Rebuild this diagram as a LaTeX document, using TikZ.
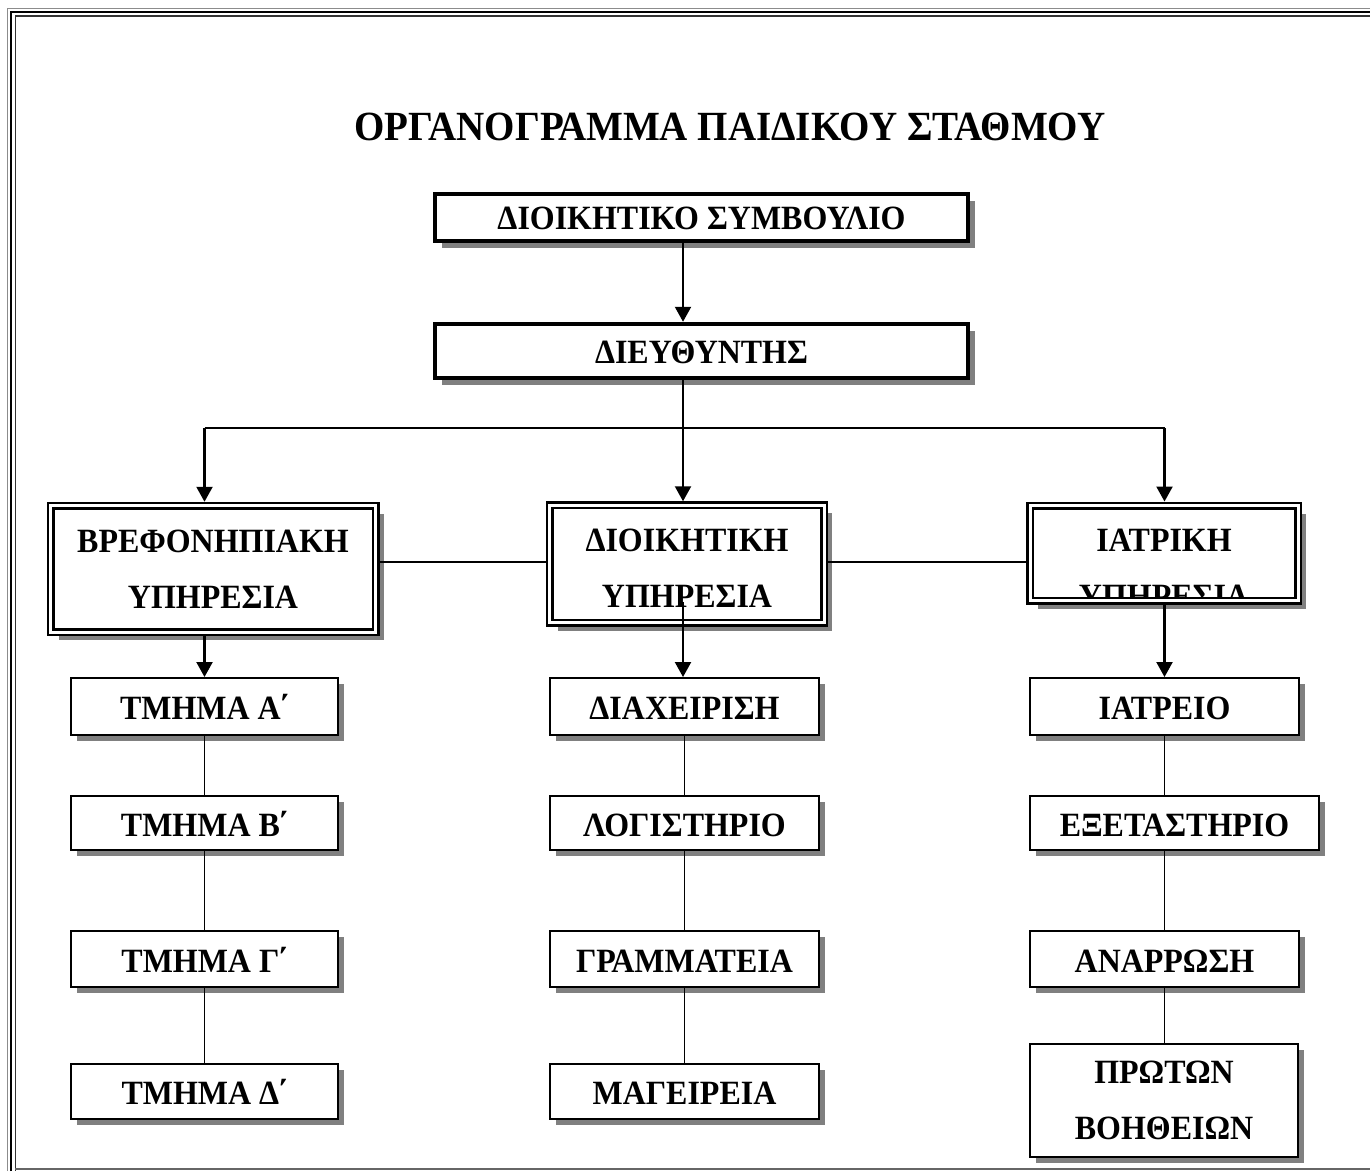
\documentclass[tikz,border=0pt]{standalone}
\usepackage{fontspec}
\setmainfont{Liberation Serif}
\newfontfamily\boxfont[FakeStretch=0.94]{Liberation Serif}
\usetikzlibrary{arrows.meta,shadows}
\definecolor{shadowgray}{gray}{0.5}
% tonos set close after a capital letter
\newcommand{\tightonos}{\kern-2.5pt ΄}
\begin{document}
\begin{tikzpicture}[x=1pt,y=-1pt,
  lbl/.style={font=\boxfont\fontsize{34}{56}\selectfont\bfseries, align=center, text=black},
  ttlstyle/.style={font=\boxfont\fontsize{41.5}{46}\selectfont\bfseries, inner sep=0pt},
  smallbox/.style={lbl, draw, line width=2pt, fill=white, inner sep=0pt, outer sep=1pt,
    drop shadow={shadow xshift=6pt, shadow yshift=-6pt, fill=shadowgray, opacity=1}},
  dept/.style={smallbox, text height=26pt, text depth=0pt},
  thickbox/.style={lbl, draw, line width=4.5pt, fill=white, inner sep=0pt, outer sep=2.25pt,
    text height=24pt, text depth=0pt,
    drop shadow={shadow xshift=7pt, shadow yshift=-7pt, fill=shadowgray, opacity=1}},
  dblbox/.style={lbl, draw, double, line width=2.5pt, double distance=3pt, fill=white,
    inner sep=0pt, outer sep=4pt,
    drop shadow={shadow xshift=8pt, shadow yshift=-8pt, fill=shadowgray, opacity=1}},
  % text set inside the border of a box, shifted and clipped by it
  inner text/.style 2 args={path picture={\node[lbl, yshift=#1] at (path picture bounding box.center) {#2};}},
  arr/.style={line width=2.2pt, -{Triangle[width=16pt,length=15pt]}},
  busline/.style={line width=1.5pt},
  link/.style={line width=1.3pt},
]
\useasboundingbox (0,0) rectangle (1370,1171);
\fill[white] (0,0) rectangle (1370,1171);

% page frame
\draw[black!45, line width=1.2pt] (7.5,1171) -- (7.5,8.5) -- (1370,8.5);
\draw[black, line width=2.6pt] (11,1171) -- (11,12) -- (1370,12);
\draw[black!80, line width=1.6pt] (15.4,1171) -- (15.4,16.2) -- (1370,16.2);
\draw[black!60, line width=1.5pt] (15.4,1169) -- (1370,1169);

% title
\node[ttlstyle, anchor=base] (ttl) at (730,140) {ΟΡΓΑΝΟΓΡΑΜΜΑ ΠΑΙΔΙΚΟΥ ΣΤΑΘΜΟΥ};

% management
\node[thickbox, minimum width=533pt, minimum height=47pt] (ds) at (701.5,217.5) {ΔΙΟΙΚΗΤΙΚΟ ΣΥΜΒΟΥΛΙΟ};
\node[thickbox, minimum width=533pt, minimum height=54pt] (dir) at (701.5,351) {ΔΙΕΥΘΥΝΤΗΣ};

% services
\node[dblbox, minimum width=325pt, minimum height=126.5pt] (vref) at (213,569) {ΒΡΕΦΟΝΗΠΙΑΚΗ\\ΥΠΗΡΕΣΙΑ};
\node[dblbox, minimum width=274.5pt, minimum height=117.5pt,
  inner text={-4pt}{ΔΙΟΙΚΗΤΙΚΗ\\ΥΠΗΡΕΣΙΑ}] (dioik) at (687,564) {};
\node[dblbox, minimum width=268pt, minimum height=95pt,
  inner text={-15pt}{ΙΑΤΡΙΚΗ\\ΥΠΗΡΕΣΙΑ}] (iat) at (1164,553) {};

% departments
\node[dept, minimum width=267pt, minimum height=57pt] (ta) at (204.5,706.5) {ΤΜΗΜΑ Α\tightonos};
\node[dept, minimum width=267pt, minimum height=54pt] (tb) at (204.5,823) {ΤΜΗΜΑ Β\tightonos};
\node[dept, minimum width=267pt, minimum height=56pt] (tg) at (204.5,959) {ΤΜΗΜΑ Γ\tightonos};
\node[dept, minimum width=267pt, minimum height=55pt] (td) at (204.5,1091.5) {ΤΜΗΜΑ Δ\tightonos};

\node[dept, minimum width=269pt, minimum height=57pt] (diax) at (684.5,706.5) {ΔΙΑΧΕΙΡΙΣΗ};
\node[dept, minimum width=269pt, minimum height=54pt] (log) at (684.5,823) {ΛΟΓΙΣΤΗΡΙΟ};
\node[dept, minimum width=269pt, minimum height=56pt] (gram) at (684.5,959) {ΓΡΑΜΜΑΤΕΙΑ};
\node[dept, minimum width=269pt, minimum height=55pt] (mag) at (684.5,1091.5) {ΜΑΓΕΙΡΕΙΑ};

\node[dept, minimum width=269pt, minimum height=57pt] (iatr) at (1164.5,706.5) {ΙΑΤΡΕΙΟ};
\node[dept, minimum width=289pt, minimum height=54pt] (exet) at (1174.5,823) {ΕΞΕΤΑΣΤΗΡΙΟ};
\node[dept, minimum width=269pt, minimum height=56pt] (anar) at (1164.5,959) {ΑΝΑΡΡΩΣΗ};
\node[smallbox, minimum width=267.5pt, minimum height=113pt] (prot) at (1164,1100.5) {ΠΡΩΤΩΝ\\ΒΟΗΘΕΙΩΝ};

% connectors
\coordinate (bus) at (683,428);
\coordinate (hl) at (0,562);
\draw[arr] (ds.south -| bus) -- (dir.north -| bus);
\draw[arr] (dir.south -| bus) -- (dioik.north -| bus);
\draw[busline] (bus -| ta) -- (bus -| iatr);
\draw[arr] (bus -| ta) -- (vref.north -| ta);
\draw[arr] (bus -| iatr) -- (iat.north -| iatr);
\draw[busline] (vref.east |- hl) -- (dioik.west |- hl);
\draw[busline] (dioik.east |- hl) -- (iat.west |- hl);

\draw[arr] (vref.south -| ta) -- (ta.north);
\draw[arr] ([yshift=25pt]dioik.south -| bus) -- (diax.north -| bus);
\draw[arr] (iat.south -| iatr) -- (iatr.north);

\draw[link] (ta.south) -- (tb.north);
\draw[link] (tb.south) -- (tg.north);
\draw[link] (tg.south) -- (td.north);
\draw[link] (diax.south) -- (log.north);
\draw[link] (log.south) -- (gram.north);
\draw[link] (gram.south) -- (mag.north);
\draw[link] (iatr.south) -- (exet.north -| iatr);
\draw[link] (exet.south -| iatr) -- (anar.north);
\draw[link] (anar.south) -- (prot.north -| anar);
\end{tikzpicture}
\end{document}
